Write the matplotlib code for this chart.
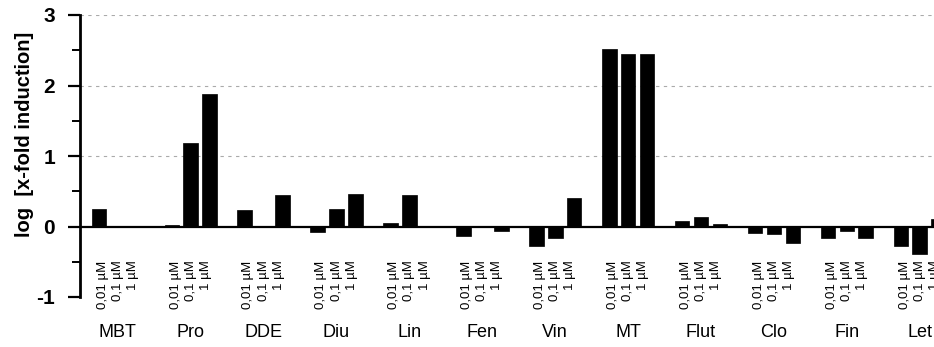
#!/usr/bin/python3
## log x-fold induction bar chart

import numpy as np
import matplotlib
matplotlib.use('Agg')
import matplotlib.pyplot as plt

plt.rcParams['font.family'] = ['Liberation Sans', 'DejaVu Sans']

# data
groups = ['MBT', 'Pro', 'DDE', 'Diu', 'Lin', 'Fen', 'Vin', 'MT', 'Flut', 'Clo', 'Fin', 'Let']
conc_labels = ['0,01 \u00b5M', '0,1 \u00b5M', '1 \u00b5M']
conc_001 = [0.25, 0.02, 0.24, -0.08, 0.05, -0.14, -0.28, 2.52, 0.08, -0.09, -0.17, -0.28]
conc_01 = [-0.01, 1.19, 0.005, 0.25, 0.44, 0.01, -0.17, 2.44, 0.13, -0.10, -0.07, -0.39]
conc_1 = [-0.01, 1.88, 0.45, 0.46, 0.0, -0.07, 0.41, 2.45, 0.04, -0.24, -0.16, 0.10]
yticks = [-1, 0, 1, 2, 3]


def main():
    fig = plt.figure(figsize=(9.34, 3.47), dpi=100)
    ax = fig.add_axes([80/934, 50/347, 1 - 80/934, 282/347])

    gpitch = 3.857
    width = 0.77
    centers = np.arange(len(groups))*gpitch
    series = [conc_001, conc_01, conc_1]
    for j, vals in enumerate(series):
        ax.bar(centers + j, vals, width=width, color='black', edgecolor='black',
               linewidth=0.5, zorder=3)

    # concentration labels and group names
    for i, g in enumerate(groups):
        mid = centers[i] + 1
        for j, lab in enumerate(conc_labels):
            ax.text(mid + (j - 1)*0.8, -0.48, lab, rotation=90, ha='center', va='top',
                    fontsize=9.5, clip_on=False)
        ax.text(mid, -1.5, g, ha='center', va='center', fontsize=13, clip_on=False)

    # grid lines (faint, broken)
    for yv in [1, 2, 3]:
        ax.axhline(yv, color='#aaaaaa', lw=0.8, ls=(0, (3, 4)), zorder=1)
    ax.axhline(0, color='black', lw=1.6, zorder=4)

    ax.set_xlim(-1.0, 44.18)
    ax.set_ylim(-1, 3)
    ax.set_yticks(yticks)
    ax.set_yticklabels([str(t) for t in yticks], fontsize=15, fontweight='bold')
    ax.set_yticks([-0.5, 0.5, 1.5, 2.5], minor=True)
    ax.tick_params(axis='y', which='major', length=9, width=1.6, pad=9)
    ax.tick_params(axis='y', which='minor', length=6, width=1.4)
    ax.set_xticks([])
    for s in ['top', 'right', 'bottom']:
        ax.spines[s].set_visible(False)
    ax.spines['left'].set_linewidth(2)

    fig.text(25/934, 1 - 134/347, 'log  [x-fold induction]', rotation=90,
             ha='center', va='center', fontsize=14.5, fontweight='bold')

    fig.savefig('out.png', dpi=100)
# end of main()

if __name__ == '__main__':
    main()
